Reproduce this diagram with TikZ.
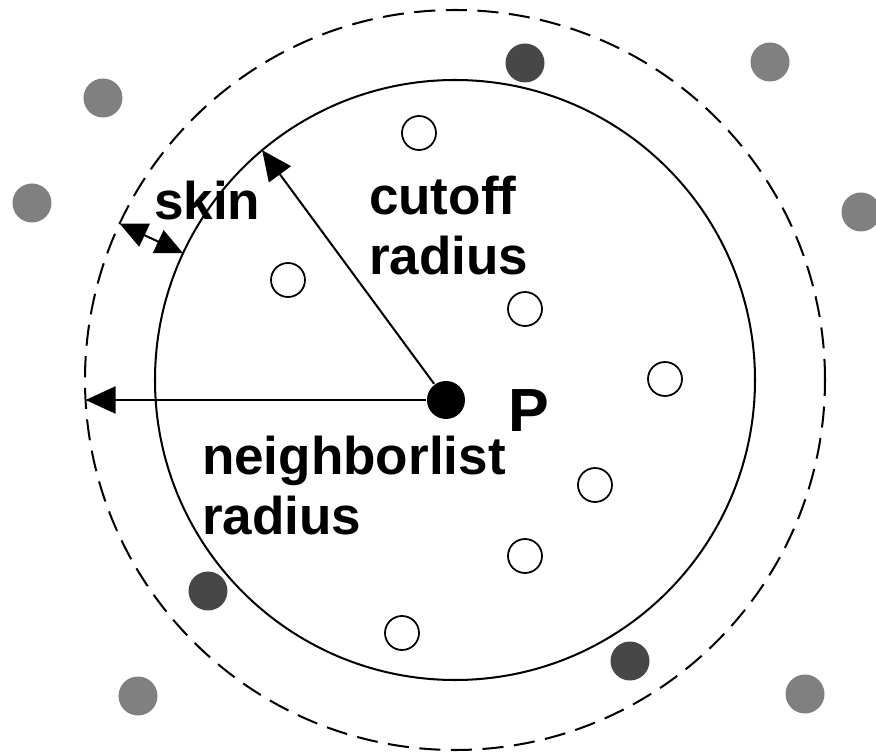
\documentclass[tikz,border=0pt]{standalone}
\usepackage{fontspec}
\setmainfont{Liberation Sans}
\usetikzlibrary{arrows.meta}

\begin{document}
\begin{tikzpicture}[line width=1.15pt,
    opendot/.style={circle, draw, fill=white, minimum size=0.68cm, inner sep=0pt, line width=1pt},
    greydot/.style={circle, fill=black!50, minimum size=0.78cm, inner sep=0pt},
    darkdot/.style={circle, fill=black!72, minimum size=0.78cm, inner sep=0pt},
    pdot/.style={circle, fill=black, minimum size=0.76cm, inner sep=0pt},
    lbl/.style={font=\fontsize{30.2}{34.1}\selectfont\bfseries, inner sep=0pt, align=left},
    arr/.style={-{Triangle[length=0.6cm,width=0.54cm]}}]
    \useasboundingbox (-9.1,-7.5) rectangle (8.42,7.6);
    % cutoff and neighborlist circles
    \draw (0,0) circle (6);
    \draw[dash pattern=on 12pt off 6pt] (0,0) circle (7.4);
    % particles inside the cutoff
    \foreach \x/\y [count=\i] in {-0.72/4.94, -3.34/2.0, 1.4/1.42, 4.2/0.02, 2.8/-2.1, 1.4/-3.52, -1.06/-5.06}{
        \node[opendot] (o\i) at (\x,\y) {};
    }
    % particles in the skin
    \foreach \x/\y [count=\i] in {1.4/6.34, -4.94/-4.22, 3.5/-5.62}{
        \node[darkdot] (s\i) at (\x,\y) {};
    }
    % particles outside
    \foreach \x/\y [count=\i] in {-7.04/5.64, -8.46/3.54, 6.3/6.36, 8.12/3.36, -6.34/-6.32, 7.0/-6.28}{
        \node[greydot] (g\i) at (\x,\y) {};
    }
    % radii
    \node[pdot] (P) at (-0.18,-0.4) {};
    \coordinate (cutend) at (130:6);
    \coordinate (nbend) at (-7.389,-0.4);
    \coordinate (skinin) at (155:6);
    \coordinate (skinout) at (155:7.4);
    \draw[arr] (P) -- (cutend);
    \draw[arr] (P) -- (nbend);
    \draw[{Triangle[length=0.55cm,width=0.5cm]}-{Triangle[length=0.55cm,width=0.5cm]}] (skinout) -- (skinin);
    % labels
    \node[lbl, anchor=base west] (skin) at (-6.04,3.2) {skin};
    \node[lbl, anchor=north west] (cut) at (-1.74,4.1) {cutoff\\radius};
    \node[lbl, anchor=north west] (nb) at (-5.08,-1.1) {neighborlist\\radius};
    \node[font=\fontsize{34.7}{40}\selectfont\bfseries, inner sep=0pt, anchor=base west] (plbl) at (1.04,-1.04) {P};
\end{tikzpicture}
\end{document}
